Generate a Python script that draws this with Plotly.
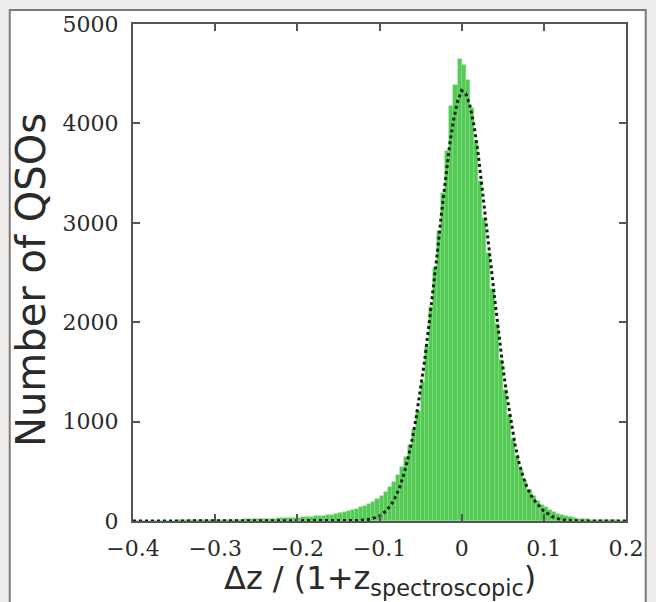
import plotly.graph_objects as go

# Histogram: bin width 0.005 from -0.4 to 0.2 (values = bin centres)
bin_width = 0.005
bin_centers = [round(-0.3975 + i * 0.005, 4) for i in range(120)]
counts = [
    3, 3, 3, 3, 4, 4, 4, 4, 5, 5,
    5, 6, 6, 6, 7, 7, 8, 8, 9, 9,
    10, 10, 11, 12, 13, 14, 15, 16, 17, 18,
    19, 20, 22, 23, 25, 26, 28, 29, 31, 33,
    35, 37, 40, 43, 46, 50, 54, 59, 65, 72,
    80, 89, 99, 110, 122, 136, 152, 170, 192, 218,
    250, 290, 340, 395, 460, 540, 640, 760, 920, 1110,
    1400, 1750, 2150, 2550, 2920, 3300, 3720, 4180, 4390, 4650,
    4590, 4440, 4150, 3820, 3420, 3050, 2700, 2330, 1980, 1620,
    1320, 1070, 830, 650, 510, 400, 315, 250, 205, 165,
    140, 112, 92, 75, 60, 48, 38, 31, 25, 21,
    17, 14, 12, 10, 9, 8, 7, 6, 5, 5,
]

# Fitted curve (dotted)
fit_x = [-0.4, -0.3, -0.2, -0.15, -0.125, -0.11, -0.1, -0.095, -0.09, -0.085,
         -0.08, -0.075, -0.07, -0.065, -0.06, -0.055, -0.05, -0.045, -0.04, -0.035,
         -0.03, -0.025, -0.02, -0.015, -0.01, -0.005, 0.0, 0.005, 0.01, 0.015,
         0.02, 0.025, 0.03, 0.035, 0.04, 0.045, 0.05, 0.055, 0.06, 0.065,
         0.07, 0.075, 0.08, 0.085, 0.09, 0.095, 0.1, 0.11, 0.12, 0.13, 0.15, 0.2]
fit_y = [0, 0, 0, 0, 5, 20, 50, 80, 120, 175,
         250, 350, 480, 640, 830, 1060, 1320, 1620, 1960, 2300,
         2670, 3060, 3430, 3760, 4030, 4220, 4330, 4300, 4180, 3980,
         3700, 3360, 2990, 2620, 2250, 1880, 1560, 1260, 1000, 770,
         580, 440, 330, 250, 190, 140, 100, 45, 15, 4, 0, 0]

x_ticks = [-0.4, -0.3, -0.2, -0.1, 0, 0.1, 0.2]
y_ticks = [0, 1000, 2000, 3000, 4000, 5000]

W, H = 656, 602
ML, MR, MT, MB = 133, 23, 21, 81
PW, PH = W - ML - MR, H - MT - MB


def px_x(p):
    return (p - ML) / PW


def px_y(p):
    return (H - MB - p) / PH


fig = go.Figure()
fig.add_trace(go.Bar(
    x=bin_centers, y=counts, width=bin_width,
    marker=dict(color="#53ca53", line=dict(color="#86dc86", width=0.5)),
    showlegend=False,
))
fig.add_trace(go.Scatter(
    x=fit_x, y=fit_y, mode="lines",
    line=dict(color="#0f240f", width=3, dash="dot"),
    showlegend=False,
))

axis_common = dict(
    showline=True, linecolor="#555555", linewidth=2, mirror="ticks",
    ticks="inside", ticklen=7, tickwidth=1.5, tickcolor="#555555",
    showgrid=False, zeroline=False,
    tickfont=dict(family="DejaVu Serif", size=22, color="#2a2a2a"),
)

fig.update_layout(
    width=W, height=H,
    margin=dict(l=ML, r=MR, t=MT, b=MB),
    paper_bgcolor="#efecec", plot_bgcolor="white",
    bargap=0,
    xaxis=dict(range=[-0.4, 0.2], tickvals=x_ticks, ticklabelstandoff=7, **axis_common),
    yaxis=dict(range=[0, 5000], tickvals=y_ticks, ticklabelstandoff=8, **axis_common),
    shapes=[dict(
        type="rect", xref="paper", yref="paper", layer="below",
        x0=px_x(8), x1=px_x(653), y0=px_y(612), y1=px_y(7),
        fillcolor="white", line=dict(color="#7a7a7a", width=2),
    )],
    annotations=[
        dict(text="Number of QSOs", xref="paper", yref="paper",
             x=px_x(30), y=px_y(278), xanchor="center", yanchor="middle",
             textangle=-90, showarrow=False,
             font=dict(family="DejaVu Sans", size=40, color="#2a2a2a")),
        dict(text="Δz / (1+z<sub>spectroscopic</sub>)", xref="paper", yref="paper",
             x=px_x(384), y=px_y(580), xanchor="center", yanchor="middle",
             showarrow=False,
             font=dict(family="DejaVu Sans", size=32, color="#2a2a2a")),
    ],
)

fig.write_html("out.html")
